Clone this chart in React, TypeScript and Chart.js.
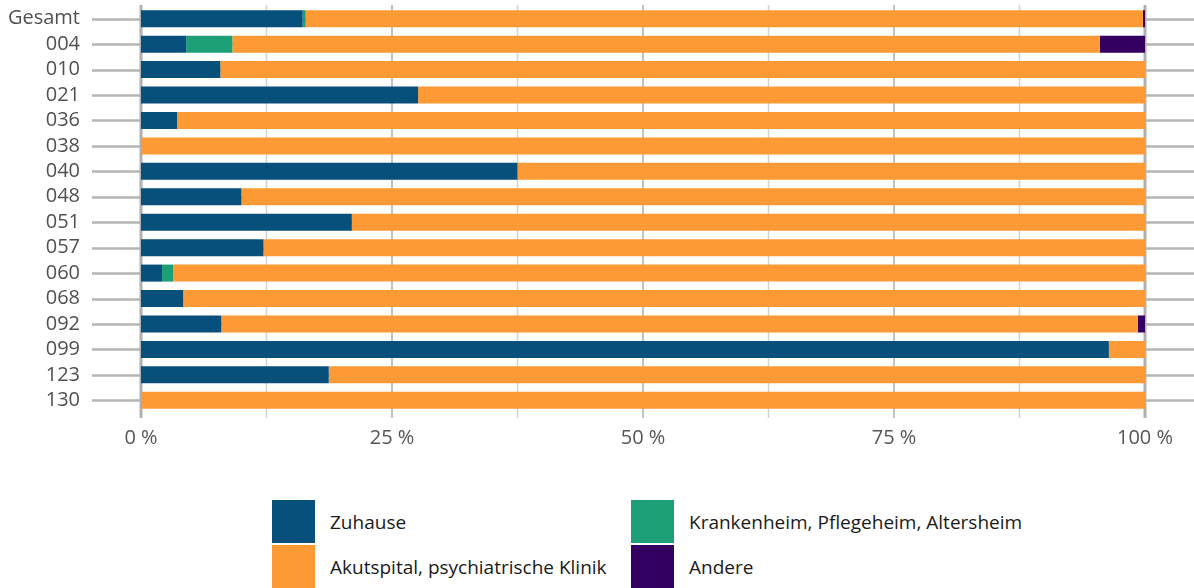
import React, { useEffect, useRef } from "react";
import { Chart, registerables } from "chart.js";

Chart.register(...registerables);

const categories = ["Gesamt", "004", "010", "021", "036", "038", "040", "048", "051", "057", "060", "068", "092", "099", "123", "130"];
const zuhause = [16.1, 4.5, 7.9, 27.6, 3.6, 0, 37.5, 10.0, 21.0, 12.2, 2.1, 4.2, 8.0, 96.4, 18.7, 0];
const krankenheim = [0.3, 4.6, 0, 0, 0, 0, 0, 0, 0, 0, 1.1, 0, 0, 0, 0, 0];
const akutspital = [83.4, 86.4, 92.1, 72.4, 96.4, 100, 62.5, 90.0, 79.0, 87.8, 96.8, 95.8, 91.3, 3.6, 81.3, 100];
const andere = [0.2, 4.5, 0, 0, 0, 0, 0, 0, 0, 0, 0, 0, 0.7, 0, 0, 0];
const xTicks = [0, 12.5, 25, 37.5, 50, 62.5, 75, 87.5, 100];

const COLORS = {
  zuhause: "#07507B",
  kranken: "#1C9E77",
  akut: "#FE9A35",
  andere: "#330062",
};

const FONT = "'Open Sans', 'Noto Sans', sans-serif";

const gridPlugin = {
  id: "customGrid",
  beforeDatasetsDraw(chart: any) {
    const { ctx, scales, chartArea } = chart;
    const x = scales.x;
    const y = scales.y;
    ctx.save();
    ctx.strokeStyle = "#b5b5b5";
    ctx.lineWidth = 2.5;
    categories.forEach((_, i) => {
      const py = Math.round(y.getPixelForValue(i)) + 0.5;
      ctx.beginPath();
      ctx.moveTo(92, py);
      ctx.lineTo(chart.width, py);
      ctx.stroke();
    });
    xTicks.forEach((v) => {
      const px = x.getPixelForValue(v);
      let color = "#d2d2d2";
      let w = 1.5;
      if (v === 0 || v === 100) {
        color = "#b0b0b0";
        w = 3;
      } else if (v % 25 === 0) {
        color = "#c2c2c2";
        w = 2;
      }
      ctx.strokeStyle = color;
      ctx.lineWidth = w;
      ctx.beginPath();
      ctx.moveTo(px, chartArea.top - 1);
      ctx.lineTo(px, chartArea.bottom + 5);
      ctx.stroke();
    });
    ctx.restore();
  },
};

function ChartView() {
  const ref = useRef<HTMLCanvasElement | null>(null);
  useEffect(() => {
    if (!ref.current) return;
    const chart = new Chart(ref.current, {
      type: "bar",
      data: {
        labels: categories,
        datasets: [
          { label: "Zuhause", data: zuhause, backgroundColor: COLORS.zuhause },
          { label: "Krankenheim, Pflegeheim, Altersheim", data: krankenheim, backgroundColor: COLORS.kranken },
          { label: "Akutspital, psychiatrische Klinik", data: akutspital, backgroundColor: COLORS.akut },
          { label: "Andere", data: andere, backgroundColor: COLORS.andere },
        ],
      },
      options: {
        indexAxis: "y",
        animation: false,
        responsive: false,
        maintainAspectRatio: false,
        layout: { padding: { top: 6, right: 49, left: 0, bottom: 0 } },
        datasets: { bar: { barPercentage: 0.67, categoryPercentage: 1.0, borderWidth: 0 } },
        plugins: { legend: { display: false }, tooltip: { enabled: false } },
        scales: {
          x: {
            stacked: true,
            min: 0,
            max: 100,
            afterBuildTicks: (s: any) => {
              s.ticks = xTicks.map((v) => ({ value: v }));
            },
            afterFit: (s: any) => {
              s.height = 47;
              s.paddingLeft = 0;
              s.paddingRight = 0;
            },
            grid: { display: false },
            border: { display: false },
            ticks: {
              padding: 5,
              color: "#555555",
              font: { family: FONT, size: 20 },
              maxRotation: 0,
              autoSkip: false,
              callback: (v: any) => (Number(v) % 25 === 0 ? `${v} %` : ""),
            },
          },
          y: {
            stacked: true,
            afterFit: (s: any) => {
              s.width = 141;
              s.paddingTop = 0;
              s.paddingBottom = 0;
            },
            grid: { display: false },
            border: { display: false },
            ticks: {
              padding: 53,
              color: "#505050",
              font: { family: FONT, size: 20 },
              autoSkip: false,
            },
          },
        },
      },
      plugins: [gridPlugin],
    } as any);
    return () => chart.destroy();
  }, []);
  return <canvas ref={ref} width={1194} height={460} style={{ position: "absolute", left: 0, top: 0 }} />;
}

const legendItems = [
  { label: "Zuhause", color: COLORS.zuhause, left: 272, top: 500 },
  { label: "Krankenheim, Pflegeheim, Altersheim", color: COLORS.kranken, left: 631, top: 500 },
  { label: "Akutspital, psychiatrische Klinik", color: COLORS.akut, left: 272, top: 545 },
  { label: "Andere", color: COLORS.andere, left: 631, top: 545 },
];

export default function App() {
  return (
    <div style={{ position: "absolute", left: 0, top: 0, width: 1194, height: 588, background: "#fff", overflow: "hidden" }}>
      <ChartView />
      {legendItems.map((it) => (
        <div key={it.label} style={{ position: "absolute", left: it.left, top: it.top, height: 43, display: "flex", alignItems: "center" }}>
          <div style={{ width: 43, height: 43, background: it.color }} />
          <span style={{ marginLeft: 15, fontFamily: FONT, fontSize: 19, color: "#1a1a1a", whiteSpace: "nowrap" }}>{it.label}</span>
        </div>
      ))}
    </div>
  );
}
